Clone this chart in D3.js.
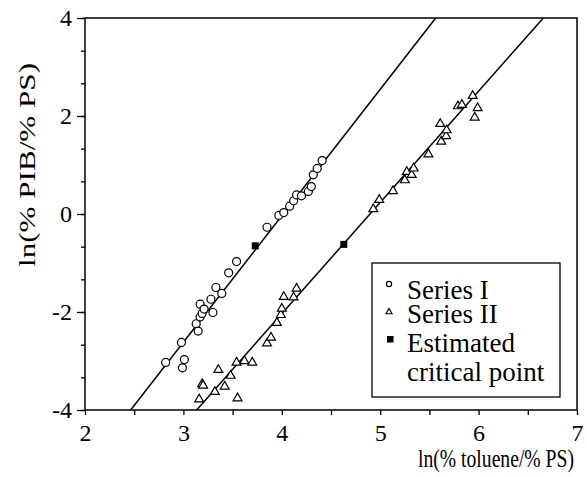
<!DOCTYPE html>
<html>
<head>
<meta charset="utf-8">
<script src="https://cdn.jsdelivr.net/npm/d3@7"></script>
<style>
body{margin:0;background:#fff;}
svg text{font-family:"Liberation Serif","Times New Roman",serif;fill:#000;}
</style>
</head>
<body>
<svg id="chart" width="587" height="477"></svg>
<script>
// series I (circles)
var seriesIX=[2.82,2.98,2.99,3.01,3.13,3.15,3.17,3.17,3.19,3.21,3.28,3.30,3.33,3.39,3.46,3.54,3.85,3.97,4.02,4.08,4.12,4.15,4.20,4.27,4.30,4.32,4.36,4.41];
var seriesIY=[-3.03,-2.62,-3.14,-2.97,-2.24,-2.39,-2.10,-1.84,-2.03,-1.94,-1.74,-2.01,-1.50,-1.62,-1.20,-0.97,-0.27,-0.03,0.03,0.16,0.27,0.39,0.37,0.46,0.56,0.80,0.93,1.09];
// series II (triangles)
var seriesIIX=[3.16,3.19,3.20,3.32,3.355,3.42,3.48,3.55,3.54,3.62,3.70,3.85,3.89,3.95,3.99,4.00,4.02,4.12,4.15,4.93,4.99,5.13,5.25,5.27,5.32,5.34,5.49,5.62,5.61,5.67,5.675,5.79,5.83,5.94,5.99,5.96];
var seriesIIY=[-3.78,-3.47,-3.50,-3.63,-3.18,-3.52,-3.30,-3.76,-3.03,-3.00,-3.03,-2.64,-2.52,-2.22,-2.06,-1.93,-1.69,-1.70,-1.52,0.10,0.29,0.47,0.69,0.86,0.80,0.93,1.22,1.48,1.84,1.59,1.71,2.20,2.23,2.41,2.16,1.97];
// estimated critical points
var critX=[3.73,4.63];
var critY=[-0.65,-0.62];
// fitted lines (end points)
var fitIX=[2.464,5.564], fitIY=[-4,4];
var fitIIX=[3.135,6.658], fitIIY=[-4,4];
// ticks
var xTicks=[2,3,4,5,6,7];
var yTicks=[-4,-2,0,2,4];
var legendLabels=["Series I","Series II","Estimated","critical point"];

var svg=d3.select("#chart");
var mLeft=85,mRight=577,mTop=18,mBottom=410;
var serif="Liberation Serif";

var x=d3.scaleLinear().domain([2,7]).range([mLeft,mRight]);
var y=d3.scaleLinear().domain([-4,4]).range([mBottom,mTop]);

// minor ticks
var xMinor=d3.range(2,7.01,0.5);
var yMinor=d3.range(0,13).map(function(i){return -4+i*2/3;});

svg.append("g")
	.attr("transform","translate(0,"+mBottom+")")
	.call(d3.axisBottom(x).tickValues(xMinor).tickSize(5).tickFormat(""))
	.call(function(g){g.select(".domain").remove();})
	.selectAll("line").attr("stroke-width",1.3);

svg.append("g")
	.attr("transform","translate("+mLeft+",0)")
	.call(d3.axisLeft(y).tickValues(yMinor).tickSize(4).tickFormat(""))
	.call(function(g){g.select(".domain").remove();})
	.selectAll("line").attr("stroke-width",1.3);

var yAxis=svg.append("g")
	.attr("transform","translate("+mLeft+",0)")
	.call(d3.axisLeft(y).tickValues(yTicks).tickSize(8).tickPadding(5).tickFormat(function(d){return d<0?"-"+Math.abs(d):String(d);}))
	.attr("font-family",serif).attr("font-size",24);
yAxis.select(".domain").remove();
yAxis.selectAll("line").attr("stroke-width",1.3);

var xAxis=svg.append("g")
	.attr("transform","translate(0,"+mBottom+")")
	.call(d3.axisBottom(x).tickValues(xTicks).tickSize(0).tickPadding(14).tickFormat(d3.format("d")))
	.attr("font-family",serif).attr("font-size",24);
xAxis.select(".domain").remove();

// frame
svg.append("rect")
	.attr("x",mLeft).attr("y",mTop)
	.attr("width",mRight-mLeft).attr("height",mBottom-mTop)
	.attr("fill","none").attr("stroke","#000").attr("stroke-width",1.5);

// fitted lines
var line=d3.line().x(function(d){return x(d[0]);}).y(function(d){return y(d[1]);});
[[fitIX,fitIY],[fitIIX,fitIIY]].forEach(function(f){
	svg.append("path")
		.datum(d3.zip(f[0],f[1]))
		.attr("d",line)
		.attr("fill","none").attr("stroke","#000").attr("stroke-width",1.5);
});

// series I
svg.selectAll("circle.s1")
	.data(d3.zip(seriesIX,seriesIY))
	.enter()
	.append("circle")
	.attr("class","s1")
	.attr("cx",function(d){return x(d[0]);})
	.attr("cy",function(d){return y(d[1]);})
	.attr("r",4)
	.attr("fill","#fff").attr("stroke","#000").attr("stroke-width",1.2);

// series II
var tri=d3.symbol().type(d3.symbolTriangle).size(34);
svg.selectAll("path.s2")
	.data(d3.zip(seriesIIX,seriesIIY))
	.enter()
	.append("path")
	.attr("class","s2")
	.attr("d",tri)
	.attr("transform",function(d){return "translate("+x(d[0])+","+y(d[1])+")";})
	.attr("fill","#fff").attr("stroke","#000").attr("stroke-width",1.2);

// critical points
svg.selectAll("rect.crit")
	.data(d3.zip(critX,critY))
	.enter()
	.append("rect")
	.attr("class","crit")
	.attr("x",function(d){return x(d[0])-3.5;})
	.attr("y",function(d){return y(d[1])-3.5;})
	.attr("width",7).attr("height",7)
	.attr("fill","#000");

// axis titles
svg.append("text")
	.attr("x",574).attr("y",467)
	.attr("text-anchor","end")
	.attr("font-family",serif).attr("font-size",25)
	.attr("textLength",156).attr("lengthAdjust","spacingAndGlyphs")
	.text("ln(% toluene/% PS)");

svg.append("text")
	.attr("transform","translate(35,165) rotate(-90)")
	.attr("text-anchor","middle")
	.attr("font-family",serif).attr("font-size",24)
	.attr("textLength",204).attr("lengthAdjust","spacingAndGlyphs")
	.text("ln(% PIB/% PS)");

// legend
var lg=svg.append("g");
lg.append("rect")
	.attr("x",372).attr("y",263).attr("width",188).attr("height",134)
	.attr("fill","#fff").attr("stroke","#000").attr("stroke-width",1.3);
lg.append("circle").attr("cx",389).attr("cy",284).attr("r",2.6)
	.attr("fill","#fff").attr("stroke","#000").attr("stroke-width",1.2);
lg.append("path").attr("d",d3.symbol().type(d3.symbolTriangle).size(16))
	.attr("transform","translate(389,312)")
	.attr("fill","#fff").attr("stroke","#000").attr("stroke-width",1.2);
lg.append("rect").attr("x",387).attr("y",336).attr("width",6.5).attr("height",6.5).attr("fill","#000");
var legY=[299,323,352,381];
lg.selectAll("text")
	.data(legendLabels)
	.enter()
	.append("text")
	.attr("x",407)
	.attr("y",function(d,i){return legY[i];})
	.attr("font-family",serif).attr("font-size",27)
	.text(function(d){return d;});
</script>
</body>
</html>
